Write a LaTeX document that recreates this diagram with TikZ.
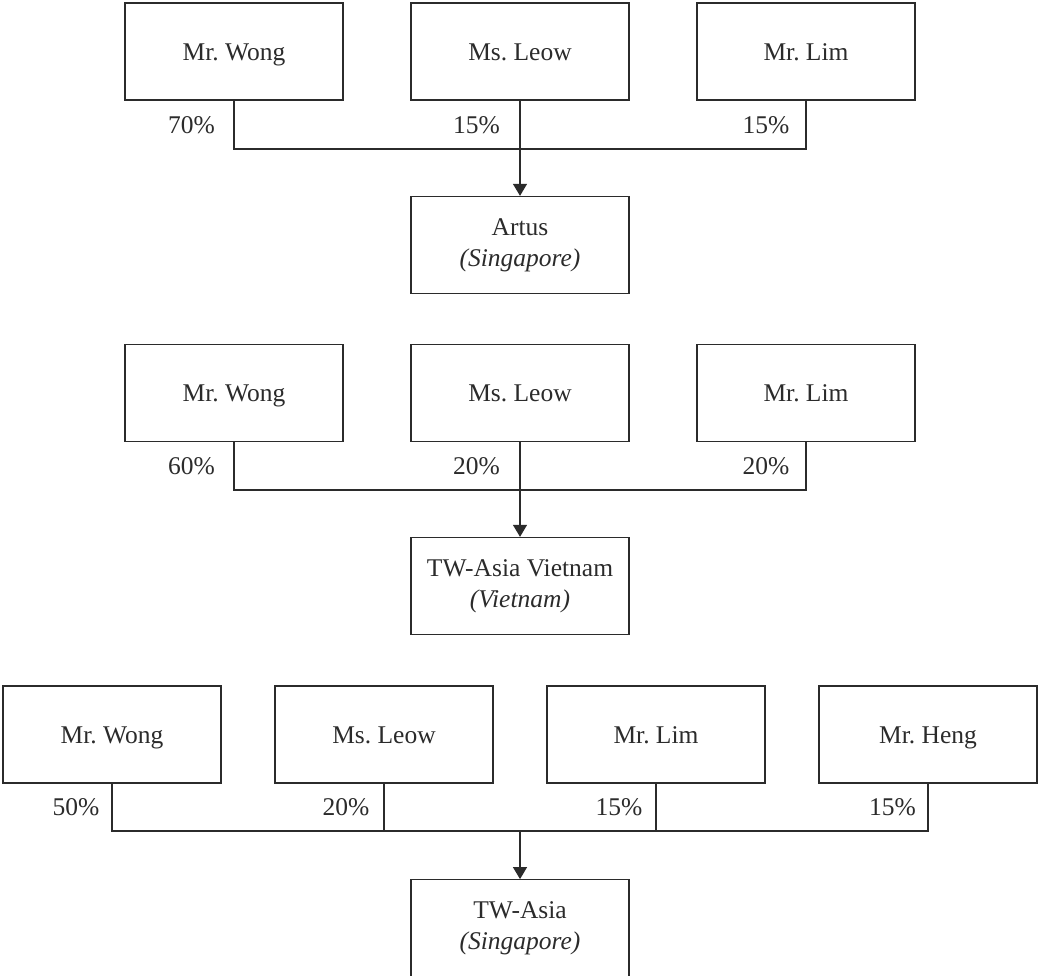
\documentclass[tikz,border=0pt]{standalone}
\usepackage{fontspec}
\setmainfont{Liberation Serif}
\frenchspacing
\usetikzlibrary{arrows.meta}
\definecolor{ink}{HTML}{2B2B2B}
\begin{document}
\begin{tikzpicture}[x=1pt,y=-1pt,
  line width=1.3pt, draw=ink,
  every node/.style={text=ink, font=\fontsize{25.5}{31}\selectfont},
  frame/.style={draw=ink, rectangle, minimum width=218pt, minimum height=97pt,
    inner sep=0pt},
  person/.style={frame, text height=17pt, text depth=0pt},
  company/.style={frame, align=center},
  share/.style={anchor=base east, inner sep=0pt},
  link/.style={draw=ink, line width=1.3pt},
  feed/.style={link, -{Triangle[width=14pt,length=12pt]}}]
\useasboundingbox (0,0) rectangle (1038,975);

% --- Artus (Singapore) ---
\node[person] (w1) at (234,51.5) {Mr. Wong};
\node[person] (l1) at (520,51.5) {Ms. Leow};
\node[person] (m1) at (806,51.5) {Mr. Lim};
\node[company] (artus) at (520,245) {Artus\\\textit{(Singapore)}};
\coordinate (j1) at (520,149);
\draw[link] (w1.south) |- (j1) -| (m1.south);
\draw[feed] (l1.south) -- (artus.north);
\node[share] (p11) at (215.5,133) {70\%};
\node[share] (p12) at (500.5,133) {15\%};
\node[share] (p13) at (790,133) {15\%};

% --- TW-Asia Vietnam (Vietnam) ---
\node[person] (w2) at (234,393) {Mr. Wong};
\node[person] (l2) at (520,393) {Ms. Leow};
\node[person] (m2) at (806,393) {Mr. Lim};
\node[company] (twv) at (520,586) {TW-Asia Vietnam\\\textit{(Vietnam)}};
\coordinate (j2) at (520,490);
\draw[link] (w2.south) |- (j2) -| (m2.south);
\draw[feed] (l2.south) -- (twv.north);
\node[share] (p21) at (215.5,474) {60\%};
\node[share] (p22) at (500.5,474) {20\%};
\node[share] (p23) at (790,474) {20\%};

% --- TW-Asia (Singapore) ---
\node[person] (w3) at (112,734.5) {Mr. Wong};
\node[person] (l3) at (384,734.5) {Ms. Leow};
\node[person] (m3) at (656,734.5) {Mr. Lim};
\node[person] (h3) at (928,734.5) {Mr. Heng};
\node[company] (tw) at (520,928.25) {TW-Asia\\\textit{(Singapore)}};
\coordinate (j3) at (520,831);
\draw[link] (w3.south) |- (j3) -| (h3.south);
\draw[link] (l3.south) -- (l3.south |- j3);
\draw[link] (m3.south) -- (m3.south |- j3);
\draw[feed] (j3) -- (tw.north);
\node[share] (p31) at (100,815) {50\%};
\node[share] (p32) at (370,815) {20\%};
\node[share] (p33) at (643,815) {15\%};
\node[share] (p34) at (916.5,815) {15\%};
\end{tikzpicture}
\end{document}
